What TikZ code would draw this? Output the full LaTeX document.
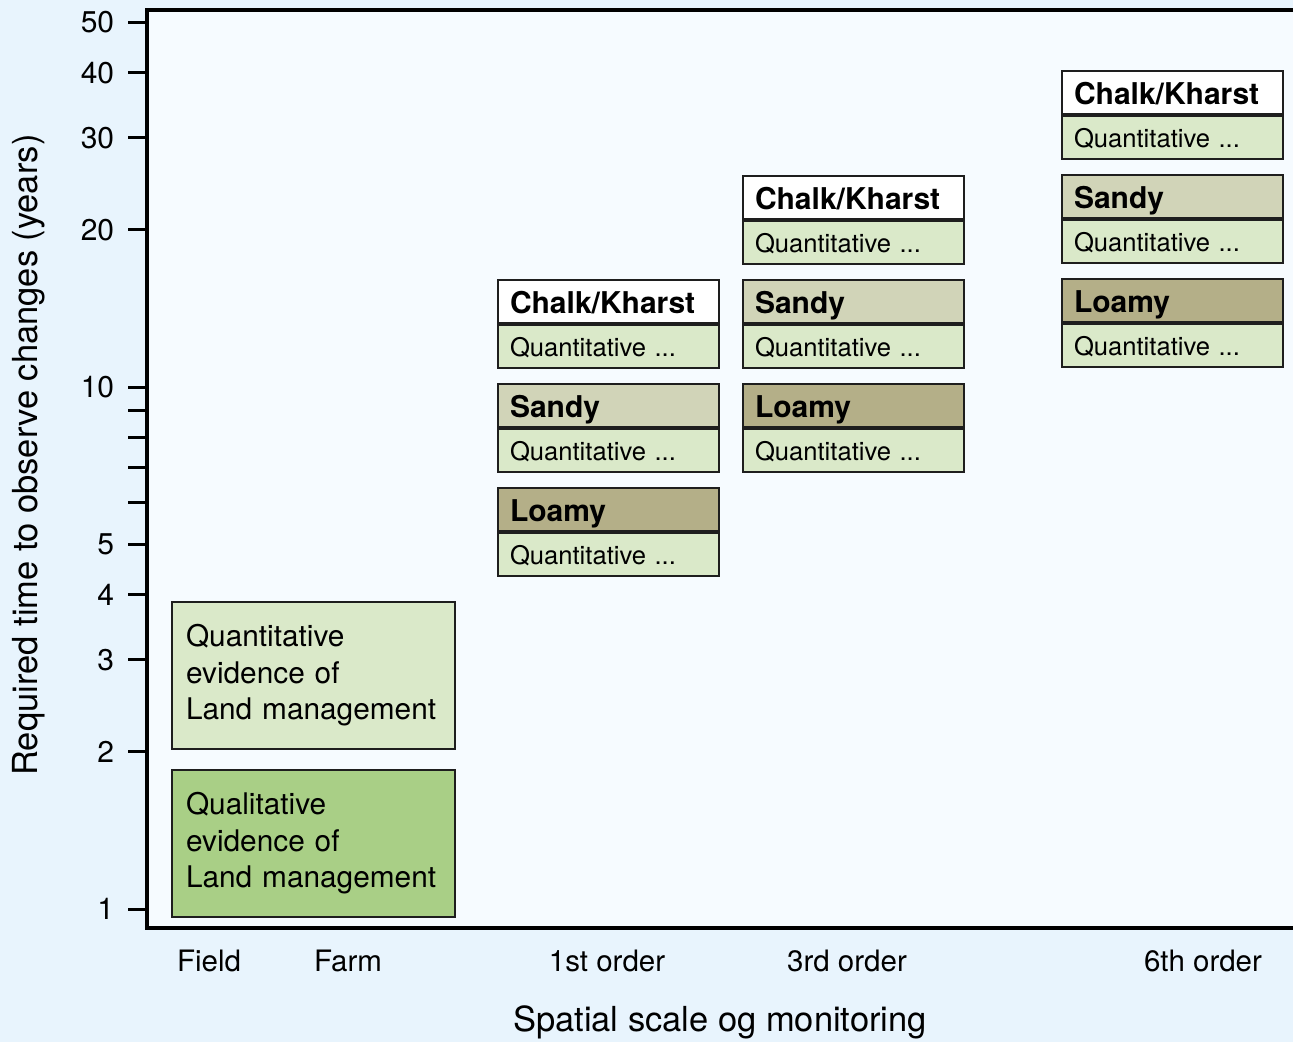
\documentclass[tikz,border=0pt]{standalone}
\usepackage{fontspec}
\setmainfont{TeX Gyre Heros}
\usetikzlibrary{positioning}
\definecolor{outerbg}{HTML}{E8F4FD}
\definecolor{plotbg}{HTML}{F6FBFF}
\definecolor{quantgreen}{HTML}{DAE9C9}
\definecolor{qualgreen}{HTML}{A9CF86}
\definecolor{sandybeige}{HTML}{D1D4B8}
\definecolor{loamyolive}{HTML}{B4AF88}
\definecolor{edgegray}{HTML}{1E1E1E}
\tikzset{
  soilhead/.style={draw=edgegray,line width=2pt,anchor=north west,minimum width=221pt,
    minimum height=43pt,text width=197pt,inner xsep=12pt,inner ysep=0pt,align=left,
    font=\fontsize{30}{32}\selectfont\bfseries,text height=24pt,text depth=0pt},
  soilsub/.style={draw=edgegray,line width=2pt,fill=quantgreen,anchor=north,minimum width=221pt,
    minimum height=43pt,text width=197pt,inner xsep=12pt,inner ysep=0pt,align=left,
    font=\fontsize{25.6}{27}\selectfont,text height=19pt,text depth=0pt},
  landbox/.style={draw=edgegray,line width=2pt,anchor=north west,minimum width=283pt,
    minimum height=147pt,text width=255pt,inner xsep=14pt,align=left,
    font=\fontsize{29.8}{36.5}\selectfont},
  ticklabel/.style={anchor=east,font=\fontsize{30}{32}\selectfont},
  scalelabel/.style={font=\fontsize{29.5}{32}\selectfont},
  axistitle/.style={font=\fontsize{34.5}{38}\selectfont}
}
\begin{document}
\begin{tikzpicture}[x=1pt,y=-1pt]
        \useasboundingbox (0,0) rectangle (1293,1042);
        \fill[outerbg] (0,0) rectangle (1293,1042);
        \fill[plotbg] (147,10) rectangle (1293,928);
        % log scale of years
        \foreach \v in {1,2,3,4,5,10,20,30,40,50}
            \draw[line width=3pt] (128,{909-522*log10(\v)}) -- (147,{909-522*log10(\v)})
                node[ticklabel,xshift=-9pt] (tick\v) at (128,{909-522*log10(\v)}) {\v};
        \foreach \v in {6,7,8,9}
            \draw[line width=3pt] (128,{909-522*log10(\v)}) -- (147,{909-522*log10(\v)});
        \draw[line width=3.6pt] (1293,10) -- (147,10) -- (147,928) -- (1293,928);
        % soil boxes per order
        \foreach \col/\x/\y in {first/497/279,third/742/175,sixth/1061/70}{
            \node[soilhead,fill=white] (chalk\col) at (\x,\y) {Chalk/Kharst};
            \node[soilsub] (chalkq\col) at (chalk\col.south) {Quantitative ...};
            \node[soilhead,fill=sandybeige] (sandy\col) at (\x,\y+104) {Sandy};
            \node[soilsub] (sandyq\col) at (sandy\col.south) {Quantitative ...};
            \node[soilhead,fill=loamyolive] (loamy\col) at (\x,\y+208) {Loamy};
            \node[soilsub] (loamyq\col) at (loamy\col.south) {Quantitative ...};
        }
        \node[landbox,fill=quantgreen] (quant) at (171,601) {Quantitative\\evidence of\\Land management};
        \node[landbox,fill=qualgreen] (qual) at (171,769) {Qualitative\\evidence of\\Land management};
        % scale labels
        \node[scalelabel] (field) at (209,961) {Field};
        \node[scalelabel] (farm) at (348,961) {Farm};
        \node[scalelabel] (order1) at (607,961) {1st order};
        \node[scalelabel] (order3) at (847,961) {3rd order};
        \node[scalelabel] (order6) at (1203,961) {6th order};
        \node[axistitle] (xtitle) at (720,1022) {Spatial scale og monitoring};
        \node[axistitle,rotate=90] (ytitle) at (29,455) {Required time to observe changes (years)};
        \end{tikzpicture}
\end{document}
